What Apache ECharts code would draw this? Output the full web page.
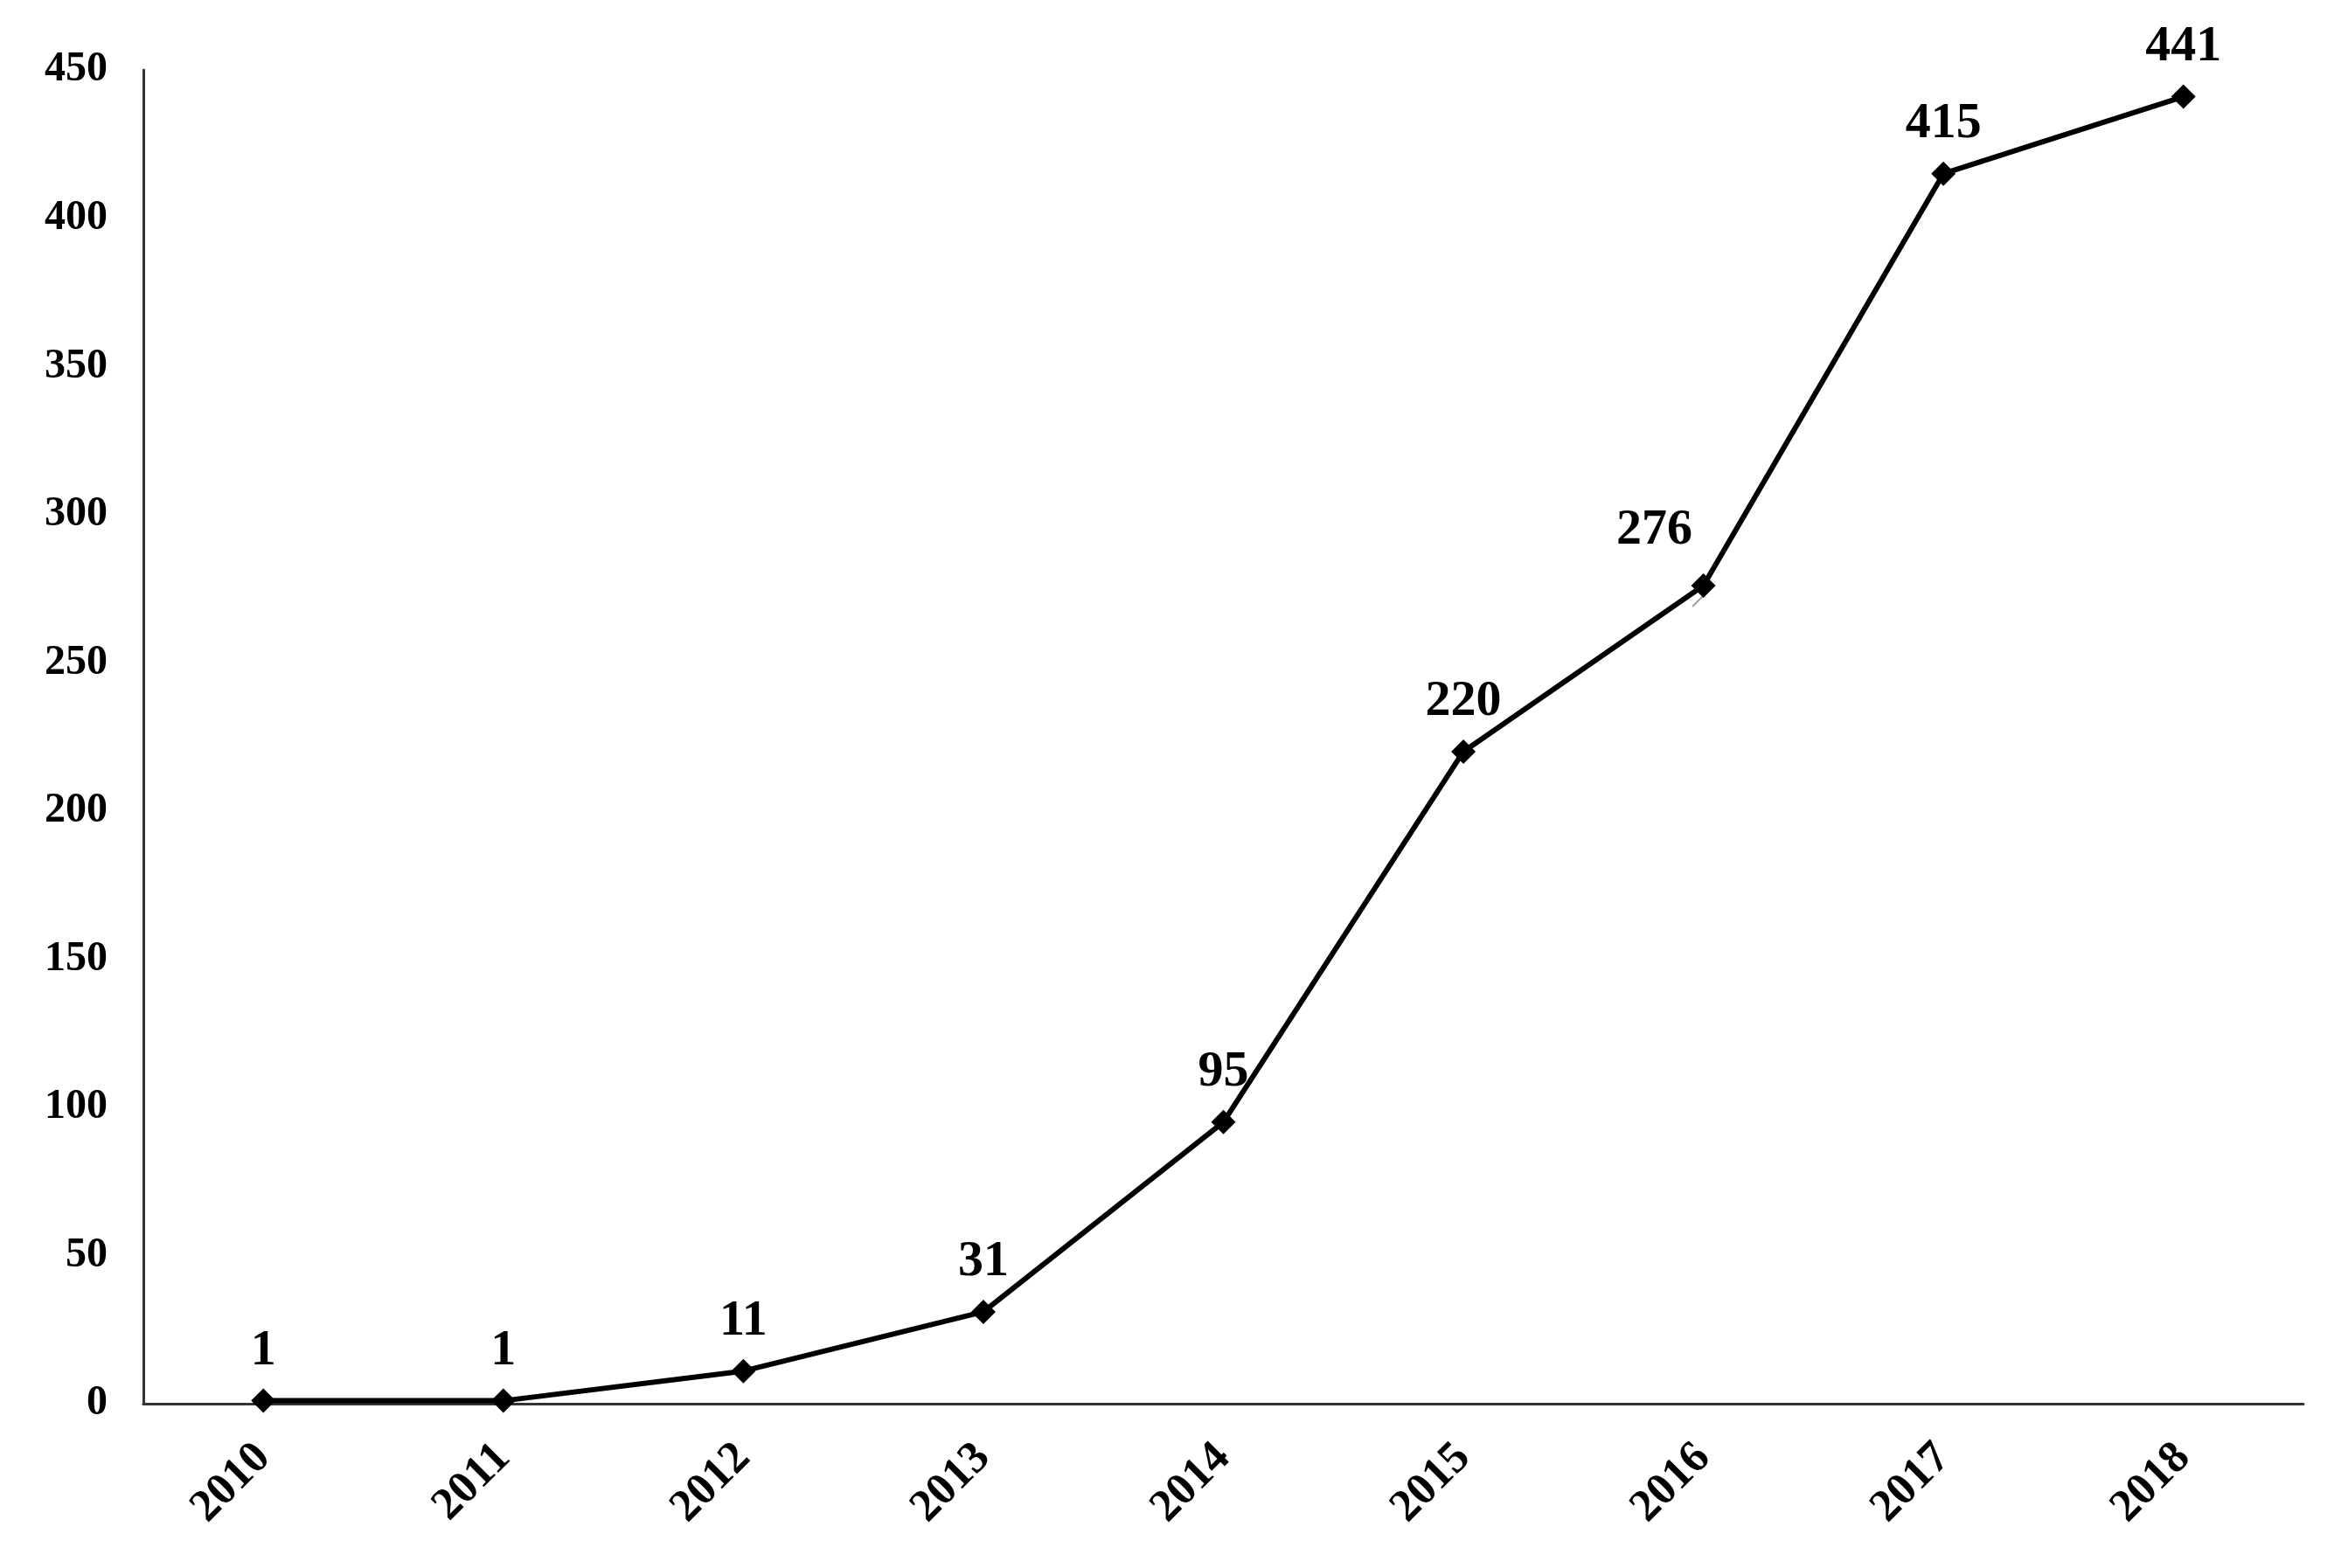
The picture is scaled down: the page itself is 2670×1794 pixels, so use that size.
<!DOCTYPE html>
<html><head><meta charset="utf-8">
<script src="https://cdn.jsdelivr.net/npm/echarts@6/dist/echarts.min.js"></script>
<style>html,body{margin:0;padding:0;background:#fff}#c{width:2670px;height:1794px}</style>
</head><body><div id="c"></div>
<script>
const years = ['2010','2011','2012','2013','2014','2015','2016','2017','2018'];
const values = [1, 1, 11, 31, 95, 220, 276, 415, 441];
const yTicks = {min: 0, max: 450, interval: 50};

const font = '"Liberation Serif", "Times New Roman", serif';
const chart = echarts.init(document.getElementById('c'));
const data = values.map((v, i) => {
  if (years[i] === '2016') {
    return {value: v, label: {offset: [-56, -6]}, labelLine: {show: true, lineStyle: {color: '#a0a0a0', width: 2}}};
  }
  return v;
});
chart.setOption({
  animation: false,
  backgroundColor: '#fff',
  grid: {left: 164, top: 80, right: 35, bottom: 188, containLabel: false},
  xAxis: {
    type: 'category', data: years, boundaryGap: true,
    axisLine: {lineStyle: {color: '#333', width: 3}},
    axisTick: {show: false},
    axisLabel: {rotate: 45, margin: 54, color: '#000', fontFamily: font, fontWeight: 'bold', fontSize: 52}
  },
  yAxis: {
    type: 'value', min: yTicks.min, max: yTicks.max, interval: yTicks.interval,
    axisLine: {show: true, lineStyle: {color: '#333', width: 3}},
    axisTick: {show: false},
    splitLine: {show: false},
    axisLabel: {margin: 41, color: '#000', fontFamily: font, fontWeight: 'bold', fontSize: 48}
  },
  series: [{
    type: 'line', data: data,
    symbol: 'diamond', symbolSize: 28,
    lineStyle: {color: '#000', width: 6},
    itemStyle: {color: '#000'},
    label: {show: true, position: 'top', distance: 14, color: '#000', fontFamily: font, fontWeight: 'bold', fontSize: 58}
  }]
});
</script></body></html>
